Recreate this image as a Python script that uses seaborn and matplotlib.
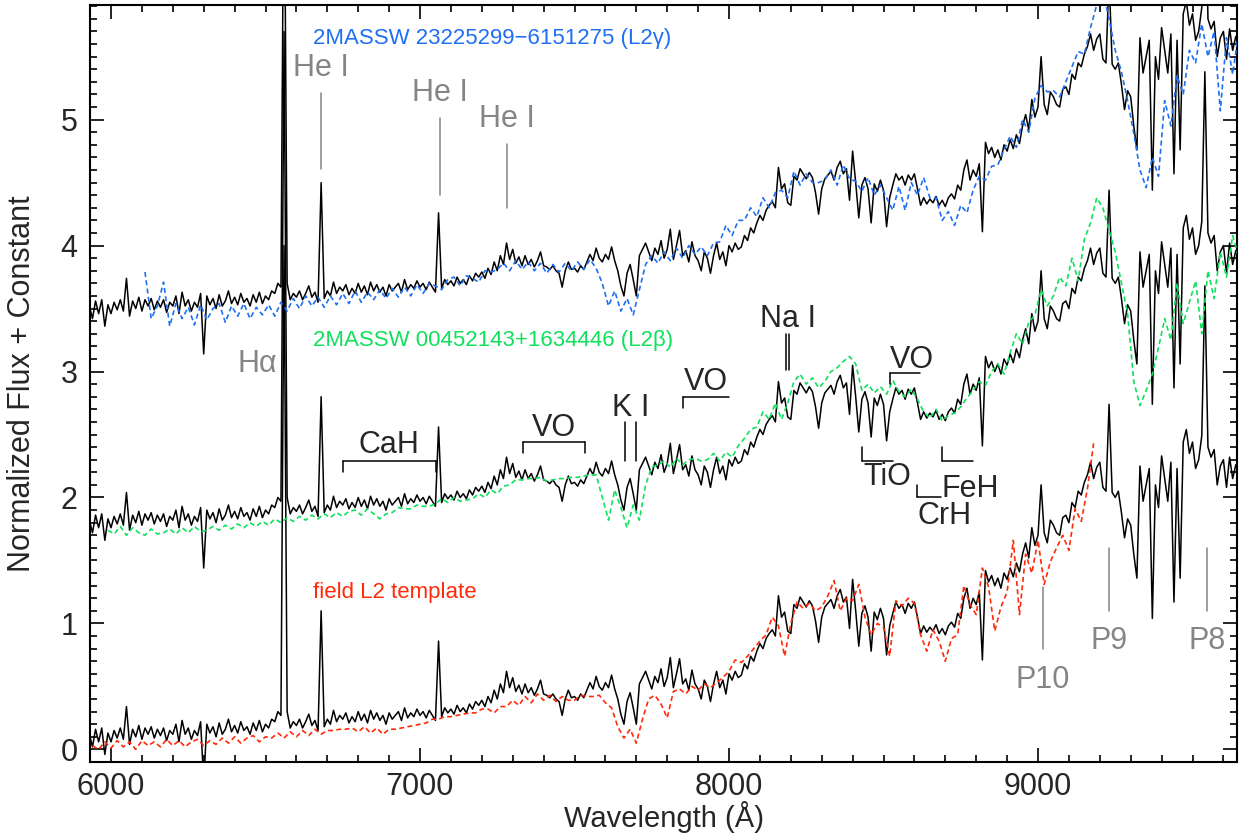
import numpy as np
import pandas as pd
import seaborn as sns
import matplotlib.pyplot as plt
from matplotlib.ticker import MultipleLocator

# target spectrum (black), sampled every 10 A from 5930 A
target_start, target_step = 5930, 10
target_flux = [
    0.12, 0.02, 0.16, 0.06, 0.17, -0.04, 0.13,
    0.06, 0.15, 0.09, 0.17, 0.08, 0.34, 0.04, 0.16, 0.10, 0.19,
    0.08, 0.17, 0.12, 0.18, 0.09, 0.16, 0.11, 0.17, 0.07, 0.15,
    0.12, 0.20, 0.06, 0.23, 0.12, 0.17, 0.08, 0.15, 0.11, 0.22,
    -0.26, 0.20, 0.13, 0.18, 0.10, 0.21, 0.12, 0.16, 0.24, 0.14,
    0.19, 0.13, 0.22, 0.15, 0.18, 0.12, 0.21, 0.15, 0.23, 0.14,
    0.20, 0.17, 0.24, 0.22, 0.30, 0.27, 4.00, 0.30, 0.17, 0.22,
    0.19, 0.24, 0.17, 0.22, 0.28, 0.19, 0.23, 0.15, 1.10, 0.18,
    0.24, 0.20, 0.31, 0.22, 0.27, 0.24, 0.29, 0.21, 0.26, 0.22,
    0.30, 0.23, 0.28, 0.21, 0.31, 0.24, 0.29, 0.23, 0.27, 0.20,
    0.29, 0.24, 0.27, 0.30, 0.23, 0.33, 0.25, 0.29, 0.26, 0.32,
    0.27, 0.30, 0.25, 0.31, 0.27, 0.23, 0.86, 0.26, 0.33, 0.29,
    0.32, 0.28, 0.35, 0.30, 0.33, 0.29, 0.36, 0.32, 0.38, 0.35,
    0.39, 0.34, 0.42, 0.37, 0.47, 0.40, 0.52, 0.45, 0.62, 0.49,
    0.57, 0.46, 0.51, 0.44, 0.52, 0.45, 0.49, 0.43, 0.48, 0.55,
    0.44, 0.43, 0.41, 0.44, 0.40, 0.38, 0.27, 0.40, 0.47, 0.41,
    0.42, 0.39, 0.44, 0.41, 0.47, 0.53, 0.48, 0.58, 0.50, 0.47,
    0.53, 0.49, 0.59, 0.48, 0.40, 0.28, 0.20, 0.38, 0.45, 0.33,
    0.20, 0.52, 0.57, 0.62, 0.55, 0.48, 0.58, 0.53, 0.64, 0.50,
    0.57, 0.73, 0.49, 0.60, 0.72, 0.52, 0.56, 0.47, 0.63, 0.52,
    0.48, 0.40, 0.55, 0.50, 0.38, 0.52, 0.62, 0.49, 0.55, 0.44,
    0.60, 0.55, 0.62, 0.57, 0.59, 0.68, 0.64, 0.74, 0.70, 0.78,
    0.84, 0.80, 0.88, 0.92, 0.95, 0.90, 1.22, 1.05, 1.09, 0.94,
    0.92, 1.15, 1.12, 1.21, 1.17, 1.13, 1.18, 1.14, 1.02, 0.85,
    1.05, 1.13, 1.16, 1.19, 1.12, 1.22, 1.27, 1.17, 1.21, 0.96,
    1.35, 1.10, 0.82, 1.08, 1.14, 1.05, 0.78, 1.09, 1.03, 1.12,
    1.04, 0.75, 0.98, 1.08, 1.17, 1.12, 1.15, 1.08, 1.16, 1.12,
    1.17, 1.05, 0.92, 0.98, 0.93, 0.97, 0.94, 0.99, 0.92, 0.96,
    0.91, 0.98, 1.01, 0.97, 1.08, 1.04, 1.20, 1.28, 1.12, 1.20,
    1.15, 1.25, 0.71, 1.42, 1.33, 1.38, 1.30, 1.36, 1.28, 1.40,
    1.35, 1.44, 1.37, 1.48, 1.41, 1.55, 1.64, 1.52, 1.76, 1.62,
    1.70, 2.10, 1.72, 1.64, 1.82, 1.78, 1.72, 1.70, 1.84, 1.86,
    1.80, 1.96, 1.92, 2.05, 2.02, 2.12, 2.18, 2.28, 2.15, 2.24,
    2.28, 2.08, 2.05, 2.74, 2.04, 2.00, 2.05, 1.88, 1.68, 1.83,
    1.78, 1.55, 1.36, 2.25, 1.97, 2.10, 2.23, 1.04, 2.10, 1.92,
    2.33, 2.15, 1.97, 2.28, 1.17, 2.23, 1.36, 2.44, 2.54, 2.35,
    2.44, 2.23, 2.30, 2.49, 3.68, 2.40, 2.32, 2.38, 2.10, 2.25,
    2.30, 2.08, 2.32, 2.15, 2.26, 2.20,
]

# comparison spectra, sampled every 20 A
gamma_start = 6110
gamma_flux = [
    0.39, 0.02, 0.12, 0.31, -0.04, 0.14, 0.02, 0.11, -0.03, 0.13,
    0.01, 0.10, 0.14, -0.01, 0.12, 0.04, 0.14, 0.02, 0.11, 0.05,
    0.13, 0.04, 0.15, 0.08, 0.18, 0.10, 0.20, 0.12, 0.19, 0.11,
    0.20, 0.13, 0.22, 0.14, 0.24, 0.15, 0.23, 0.17, 0.25, 0.18,
    0.26, 0.19, 0.27, 0.20, 0.29, 0.22, 0.30, 0.28, 0.25, 0.33,
    0.35, 0.28, 0.36, 0.34, 0.31, 0.40, 0.39, 0.41, 0.46, 0.40,
    0.48, 0.41, 0.47, 0.40, 0.46, 0.38, 0.45, 0.39, 0.46, 0.40,
    0.47, 0.41, 0.49, 0.42, 0.30, 0.12, 0.24, 0.08, 0.18, 0.05,
    0.25, 0.45, 0.52, 0.46, 0.55, 0.48, 0.58, 0.50, 0.60, 0.53,
    0.59, 0.52, 0.62, 0.63, 0.76, 0.68, 0.80, 0.80, 0.90, 0.83,
    0.98, 0.90, 1.02, 1.04, 0.98, 1.19, 1.08, 1.17, 1.10, 1.10,
    1.12, 1.20, 1.08, 1.24, 1.13, 1.11, 1.03, 1.14, 1.00, 1.08,
    0.98, 0.88, 1.07, 0.88, 1.10, 1.00, 1.14, 0.98, 0.98, 0.80,
    0.87, 0.76, 0.92, 0.86, 1.04, 1.15, 1.12, 1.23, 1.24, 1.36,
    1.47, 1.38, 1.60, 1.50, 1.77, 1.87, 1.82, 1.83, 1.78, 1.90,
    2.02, 2.14, 2.12, 2.33, 2.51, 2.62, 2.40, 2.15, 1.98, 1.75,
    1.49, 1.20, 1.06, 1.30, 1.15, 1.75, 1.55, 1.95, 1.80, 2.15,
    2.05, 2.36, 2.10, 2.30, 1.67, 2.25, 1.96, 2.30,
]

beta_start = 5990
beta_flux = [
    0.04, 0.01, 0.07, 0.00, 0.06, 0.02, 0.00, 0.05, 0.01, 0.02,
    0.05, 0.01, 0.06, 0.02, 0.07, 0.03, 0.04, 0.07, 0.04, 0.08,
    0.05, 0.09, 0.06, 0.10, 0.07, 0.11, 0.08, 0.13, 0.10, 0.14,
    0.11, 0.15, 0.12, 0.16, 0.13, 0.17, 0.14, 0.18, 0.15, 0.19,
    0.20, 0.16, 0.21, 0.17, 0.13, 0.17, 0.18, 0.22, 0.21, 0.21,
    0.24, 0.23, 0.23, 0.25, 0.29, 0.26, 0.30, 0.27, 0.28, 0.29,
    0.33, 0.30, 0.36, 0.33, 0.39, 0.40, 0.44, 0.44, 0.45, 0.45,
    0.46, 0.43, 0.44, 0.45, 0.45, 0.46, 0.46, 0.47, 0.48, 0.48,
    0.30, 0.12, 0.36, 0.22, 0.06, 0.24, 0.12, 0.40, 0.54, 0.56,
    0.59, 0.54, 0.61, 0.56, 0.60, 0.61, 0.59, 0.60, 0.65, 0.59,
    0.66, 0.62, 0.71, 0.77, 0.84, 0.86, 0.98, 0.92, 1.05, 0.92,
    1.05, 1.22, 1.28, 1.20, 1.25, 1.17, 1.22, 1.30, 1.33, 1.38,
    1.42, 1.36, 1.15, 1.20, 1.13, 1.18, 1.12, 1.23, 1.14, 1.10,
    1.16, 1.08, 0.98, 0.93, 1.00, 0.91, 0.95, 0.97, 1.02, 1.09,
    1.15, 1.22, 1.19, 1.30, 1.36, 1.28, 1.45, 1.60, 1.52, 1.69,
    1.75, 1.95, 1.82, 1.90, 2.05, 1.98, 2.20, 2.02, 2.35, 2.48,
    2.68, 2.60, 2.42, 2.25, 2.00, 1.76, 1.22, 1.03, 1.15, 1.28,
    1.49, 1.72, 1.55, 2.00, 1.68, 1.85, 2.02, 1.60, 2.10, 1.88,
    2.25, 2.05, 2.38, 2.20,
]

field_start = 5940
field_flux = [
    0.03, 0.00, 0.06, 0.01, 0.07, 0.02, 0.06, 0.00, 0.07, 0.03,
    0.06, 0.02, 0.08, 0.03, 0.07, 0.02, 0.06, 0.08, 0.03, 0.07,
    0.04, 0.09, 0.05, 0.10, 0.05, 0.09, 0.11, 0.06, 0.10, 0.09,
    0.13, 0.09, 0.14, 0.10, 0.15, 0.11, 0.16, 0.12, 0.15, 0.15,
    0.16, 0.16, 0.17, 0.14, 0.18, 0.13, 0.17, 0.12, 0.16, 0.16,
    0.17, 0.18, 0.19, 0.20, 0.21, 0.24, 0.24, 0.26, 0.26, 0.27,
    0.28, 0.29, 0.29, 0.32, 0.32, 0.29, 0.34, 0.34, 0.39, 0.35,
    0.42, 0.37, 0.44, 0.39, 0.43, 0.38, 0.42, 0.39, 0.39, 0.43,
    0.42, 0.42, 0.43, 0.37, 0.33, 0.18, 0.09, 0.16, 0.05, 0.24,
    0.40, 0.43, 0.36, 0.25, 0.46, 0.48, 0.44, 0.50, 0.47, 0.52,
    0.49, 0.53, 0.57, 0.62, 0.71, 0.69, 0.74, 0.80, 0.86, 0.91,
    1.05, 0.98, 0.74, 1.00, 1.17, 1.12, 1.16, 1.10, 1.13, 1.22,
    1.34, 1.10, 1.20, 1.18, 1.31, 1.05, 0.91, 1.00, 0.97, 0.74,
    1.18, 1.14, 1.20, 1.16, 0.91, 0.78, 0.95, 0.86, 0.70, 0.88,
    0.91, 1.30, 1.15, 1.07, 1.44, 1.29, 0.94, 1.13, 1.25, 1.66,
    1.07, 1.55, 1.40, 1.66, 1.31, 1.49, 1.60, 1.70, 1.58, 1.91,
    1.81, 2.07, 2.43,
]
comp_step = 20

offsets = [3.4, 1.7, 0.0]
comp_colors = ['#1f6ff2', '#10e05c', '#ff2a0a']
comp_labels = ['2MASSW 23225299\u22126151275 (L2\u03b3)',
               '2MASSW 00452143+1634446 (L2\u03b2)',
               'field L2 template']
label_y = [5.60, 3.20, 1.20]

grey = '#858585'
he_lines = [6678, 7065, 7281]
he_line_lo = [4.61, 4.40, 4.30]
he_line_hi = [5.21, 5.01, 4.81]
he_text_y = [5.35, 5.15, 4.94]
pa_names = ['P10', 'P9', 'P8']
pa_lines = [9015, 9229, 9546]
pa_line_lo = [0.80, 1.10, 1.10]
pa_line_hi = [1.29, 1.60, 1.60]
pa_text_y = [0.49, 0.80, 0.80]

sns.set_theme(style='ticks')
plt.rcParams['font.family'] = ['Liberation Sans', 'DejaVu Sans']
plt.rcParams['axes.linewidth'] = 1.5

fig = plt.figure(figsize=(12.41, 8.38), dpi=100)
ax = fig.add_axes([90 / 1241, 1 - 762 / 838, 1147 / 1241, 757 / 838])

target_wave = target_start + target_step * np.arange(len(target_flux))
comps = [(gamma_start, gamma_flux), (beta_start, beta_flux), (field_start, field_flux)]

for i, off in enumerate(offsets):
    df = pd.DataFrame({'wave': target_wave, 'flux': np.array(target_flux) + off})
    sns.lineplot(data=df, x='wave', y='flux', ax=ax, color='black', lw=1.1,
                 estimator=None, sort=False, zorder=2)

for (start, flux), off, col in zip(comps, offsets, comp_colors):
    wave = start + comp_step * np.arange(len(flux))
    df = pd.DataFrame({'wave': wave, 'flux': np.array(flux) + off})
    sns.lineplot(data=df, x='wave', y='flux', ax=ax, color=col, lw=1.2,
                 estimator=None, sort=False, zorder=3, dashes=False)
    ax.lines[-1].set_dashes((3, 2))

for txt, y, col in zip(comp_labels, label_y, comp_colors):
    ax.text(6654, y, txt, color=col, fontsize=16, ha='left', va='baseline')

# He I and Paschen markers
for x, lo, hi, ty in zip(he_lines, he_line_lo, he_line_hi, he_text_y):
    ax.plot([x, x], [lo, hi], color=grey, lw=1.1, zorder=4)
    ax.text(x, ty, 'He I', color=grey, fontsize=22, ha='center', va='baseline')
for name, x, lo, hi, ty in zip(pa_names, pa_lines, pa_line_lo, pa_line_hi, pa_text_y):
    ax.plot([x, x], [lo, hi], color=grey, lw=1.1, zorder=4)
    ax.text(x, ty, name, color=grey, fontsize=22, ha='center', va='baseline')
ax.text(6472, 3.0, 'H\u03b1', color=grey, fontsize=22, ha='center', va='baseline')

# molecular / atomic features
def bracket(x0, x1, y, tick, left=True, right=True):
    ax.plot([x0, x1], [y, y], color='black', lw=1.1, zorder=4)
    if left:
        ax.plot([x0, x0], [y, y + tick], color='black', lw=1.1, zorder=4)
    if right:
        ax.plot([x1, x1], [y, y + tick], color='black', lw=1.1, zorder=4)

bracket(6751, 7052, 2.29, -0.09)
ax.text(6900, 2.35, 'CaH', fontsize=22, ha='center', va='baseline')
bracket(7334, 7534, 2.44, -0.09)
ax.text(7434, 2.49, 'VO', fontsize=22, ha='center', va='baseline')
for x in [7665, 7699]:
    ax.plot([x, x], [2.29, 2.60], color='black', lw=1.1, zorder=4)
ax.text(7682, 2.65, 'K I', fontsize=22, ha='center', va='baseline')
bracket(7851, 8000, 2.80, -0.09, right=False)
ax.text(7926, 2.85, 'VO', fontsize=22, ha='center', va='baseline')
for x in [8183, 8195]:
    ax.plot([x, x], [3.01, 3.30], color='black', lw=1.1, zorder=4)
ax.text(8190, 3.35, 'Na I', fontsize=22, ha='center', va='baseline')
bracket(8521, 8618, 2.99, -0.09, right=False)
ax.text(8592, 3.03, 'VO', fontsize=22, ha='center', va='baseline')
bracket(8430, 8531, 2.29, 0.11, right=False)
ax.text(8511, 2.10, 'TiO', fontsize=22, ha='center', va='baseline')
bracket(8689, 8790, 2.29, 0.11, right=False)
ax.text(8780, 2.00, 'FeH', fontsize=22, ha='center', va='baseline')
bracket(8608, 8686, 2.00, 0.10, right=False)
ax.text(8696, 1.79, 'CrH', fontsize=22, ha='center', va='baseline')

ax.set_xlim(5932, 9644)
ax.set_ylim(-0.1, 5.91)
ax.xaxis.set_major_locator(MultipleLocator(1000))
ax.xaxis.set_minor_locator(MultipleLocator(100))
ax.yaxis.set_major_locator(MultipleLocator(1))
ax.yaxis.set_minor_locator(MultipleLocator(0.1))
ax.tick_params(which='both', direction='in', top=True, right=True,
               labelsize=22, color='black')
ax.tick_params(which='major', length=10, width=1.2)
ax.tick_params(which='minor', length=5, width=1.2)
ax.tick_params(axis='x', pad=7)
ax.tick_params(axis='y', pad=9)
for s in ax.spines.values():
    s.set_linewidth(1.5)
    s.set_color('black')

ax.set_xlabel('Wavelength (\u00c5)', fontsize=21)
ax.set_ylabel('Normalized Flux + Constant', fontsize=22)
ax.xaxis.set_label_coords(0.5, -0.052)
ax.yaxis.set_label_coords(-0.046, 0.5)

fig.savefig('out.png', dpi=100)
